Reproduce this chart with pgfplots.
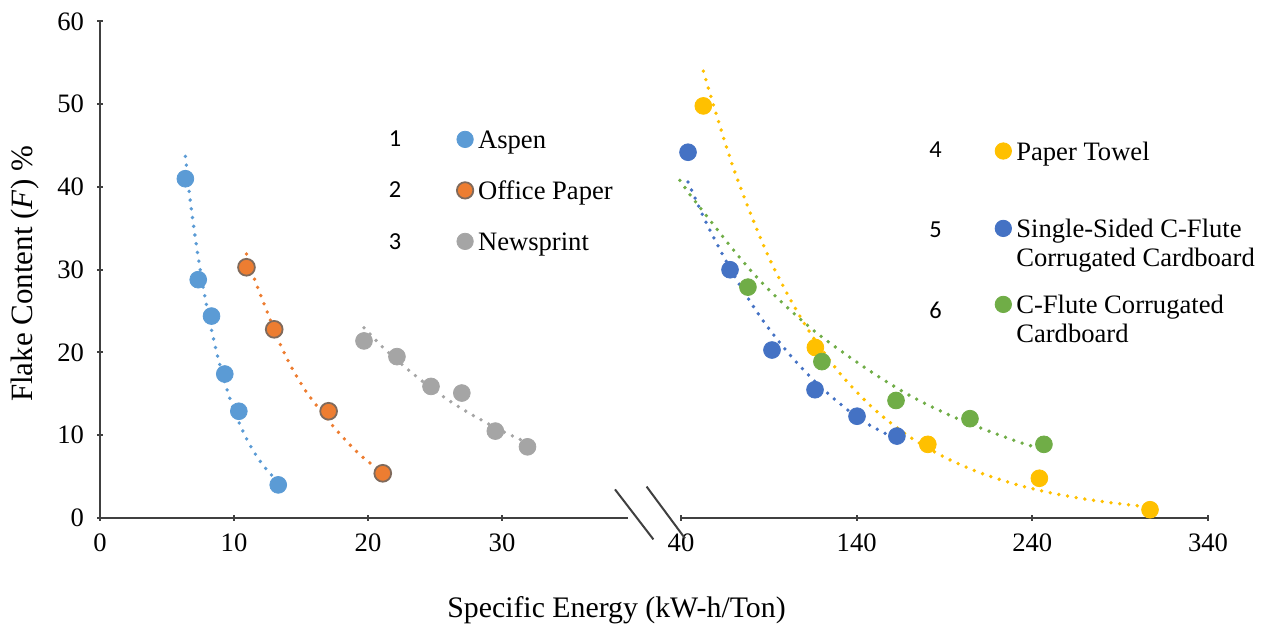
\documentclass[border=0pt]{standalone}
\usepackage{pgfplots}
\pgfplotsset{compat=1.18}
\usepackage{fontspec}
\setmainfont{Liberation Serif}
\newfontfamily\calibri{Carlito}
\definecolor{aspen}{HTML}{5B9BD5}
\definecolor{office}{HTML}{ED7D31}
\definecolor{officeedge}{HTML}{7F6A5C}
\definecolor{news}{HTML}{A5A5A5}
\definecolor{towel}{HTML}{FFC000}
\definecolor{single}{HTML}{4472C4}
\definecolor{cflute}{HTML}{70AD47}
\definecolor{axisgray}{HTML}{404040}
\newcommand{\lent}[2]{\raisebox{0pt}[10pt][#1]{\begin{tabular}[t]{@{}l@{}}#2\end{tabular}}}
\pgfplotsset{
 trend/.style={line width=1.9pt, line cap=round, dash pattern=on 0pt off 4.4pt, smooth, no marks, forget plot},
 pts/.style={only marks, mark=*, mark size=4.2pt},
 common/.style={scale only axis, height=248.25pt, ymin=0, ymax=60, clip=false,
   axis line style={axisgray, line width=1pt},
   tick style={axisgray, line width=1pt},
   tick align=outside, major tick length=3pt,
   ticklabel style={font=\fontsize{13.3}{16}\selectfont, text=black},
   /pgf/number format/assume math mode=true,
   xticklabel style={yshift=-3pt},
   legend style={draw=none, fill=none, inner sep=0pt, font=\fontsize{13.3}{14.5}\selectfont,
     cells={anchor=base west}, nodes={inner sep=0pt, text depth={}}, row sep=0pt, column sep=2.4pt},
   legend image code/.code={\path[draw=none,fill=none] (-4pt,0pt) rectangle (4pt,9pt); \draw[##1, mark size=4.1pt] plot coordinates {(0pt,4.5pt)};},
 },
}
\begin{document}
\begin{tikzpicture}
\path[use as bounding box] (0pt,0pt) rectangle (635.5pt,315pt);
% left axis
\begin{axis}[common, at={(50pt,56pt)}, anchor=south west, width=264pt,
  xmin=0, xmax=39.4, axis x line=bottom, axis y line=left,
  x axis line style={-}, y axis line style={-},
  xtick={0,10,20,30}, ytick={0,10,...,60}, yticklabel style={xshift=-3pt},
  legend style={at={(0.6752,0.7855)}, anchor=north west}]
\addplot[trend, color=aspen] coordinates {(6.37,43.7) (6.8,37.5) (7.3,31.8) (7.8,27.0) (8.3,22.9) (8.8,19.4) (9.3,16.45) (9.8,13.95) (10.3,11.83) (10.8,10.03) (11.3,8.5) (11.8,7.21) (12.3,6.11) (12.8,5.18) (13.2,4.6)};
\addplot[trend, color=office] coordinates {(10.93,31.9) (11.5,29.0) (12.5,24.8) (13.5,20.8) (14.5,17.6) (15.5,15.0) (16.5,12.9) (17.5,10.9) (18.5,9.1) (19.5,7.5) (20.5,6.2) (21.1,5.6)};
\addplot[trend, color=news] coordinates {(19.7,23.0) (21,20.8) (22.5,18.6) (24,16.6) (25.5,14.8) (27,13.2) (28.5,11.8) (30,10.5) (31.9,9.1)};
\addplot[pts, color=aspen] coordinates {(6.37,41.0) (7.33,28.8) (8.32,24.4) (9.31,17.4) (10.36,12.9) (13.3,4.0)};
\addlegendentry{\lent{15.5pt}{Aspen}}
\addplot[pts, color=office, mark options={fill=office, draw=officeedge, line width=0.9pt}] coordinates {(10.93,30.3) (13.0,22.8) (17.06,12.9) (21.1,5.4)};
\addlegendentry{\lent{15.5pt}{Office Paper}}
\addplot[pts, color=news] coordinates {(19.7,21.4) (22.16,19.5) (24.7,15.9) (27.0,15.1) (29.5,10.5) (31.9,8.6)};
\addlegendentry{\lent{15.5pt}{Newsprint}}
\end{axis}
% right axis
\begin{axis}[common, at={(340.5pt,56pt)}, anchor=south west, width=263.5pt,
  xmin=40, xmax=340, axis x line=bottom, axis y line=none,
  x axis line style={-},
  xtick={40,140,240,340}, ytick=\empty,
  legend style={at={(0.5953,0.7621)}, anchor=north west}]
\addplot[trend, color=towel] coordinates {(52.7,54.0) (70,42.2) (90,31.5) (110,23.56) (130,17.6) (150,13.15) (170,9.83) (190,7.34) (210,5.49) (230,4.1) (250,3.06) (270,2.29) (290,1.71) (307,1.34)};
\addplot[trend, color=single] coordinates {(44,40.6) (55,35.4) (70,29.4) (85,24.35) (100,20.2) (115,16.75) (130,13.89) (145,11.52) (163,9.5)};
\addplot[trend, color=cflute] coordinates {(39.4,40.8) (46.1,38.8) (59.4,35.2) (69.8,32.4) (84,28.9) (100.2,25.5) (120,21.9) (146.6,17.9) (169.4,14.9) (193.1,12.4) (214,10.6) (234.8,9.0) (247,8.3)};
\addplot[pts, color=towel] coordinates {(52.7,49.8) (116.5,20.6) (180.5,8.9) (244,4.8) (307,1.0)};
\addlegendentry{\lent{28.7pt}{Paper Towel}}
\addplot[pts, color=single] coordinates {(44,44.2) (67.9,30.0) (91.8,20.3) (116.3,15.5) (140.2,12.3) (162.9,9.9)};
\addlegendentry{\lent{28pt}{Single-Sided C-Flute\\Corrugated Cardboard}}
\addplot[pts, color=cflute] coordinates {(78.1,27.9) (120.2,18.9) (162.4,14.2) (204.5,12.0) (246.6,8.9)};
\addlegendentry{\lent{20pt}{C-Flute Corrugated\\Cardboard}}
\end{axis}
% axis break marks
\draw[axisgray, line width=1pt] (307.5pt,70.3pt) -- (326.7pt,45.3pt);
\draw[axisgray, line width=1pt] (323.3pt,71.7pt) -- (342.5pt,45.8pt);
% series numbers
\begin{scope}[every node/.style={font=\calibri\fontsize{12.2}{14}\selectfont}]
\node at (197.5pt,245.5pt) {1};
\node at (197.5pt,220pt) {2};
\node at (197.5pt,194pt) {3};
\node at (467.75pt,240pt) {4};
\node at (467.75pt,200pt) {5};
\node at (467.75pt,160pt) {6};
\end{scope}
% axis titles
\node[rotate=90, font=\fontsize{15.5}{18}\selectfont] at (12.5pt,178pt) {Flake Content (\textit{F}) \%};
\node[font=\fontsize{14.9}{17}\selectfont] at (308.25pt,10pt) {Specific Energy (kW-h/Ton)};
\end{tikzpicture}
\end{document}
